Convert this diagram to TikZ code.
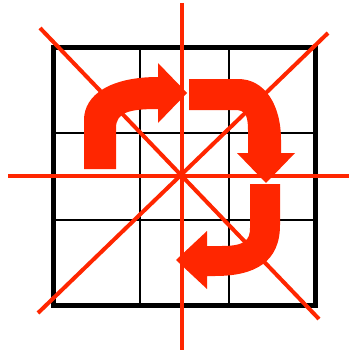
\documentclass[tikz,border=0pt]{standalone}
\definecolor{arrred}{RGB}{255,38,0}
\tikzset{
  gridouter/.style={line width=5pt, black},
  gridinner/.style={line width=2pt, black},
  redline/.style={line width=4pt, arrred},
  bigarrow/.style={fill=arrred, draw=none}
}
\begin{document}
\begin{tikzpicture}[x=1pt,y=-1pt]
\useasboundingbox (0,0) rectangle (349,353);
% grid
\draw[gridinner] (140,48) -- (140,305);
\draw[gridinner] (228.5,48) -- (228.5,305);
\draw[gridinner] (53,133) -- (315.5,133);
\draw[gridinner] (53,220) -- (315.5,220);
\draw[gridouter] (53,48) rectangle (315.5,305);
% red symmetry lines
\coordinate (c) at (181.5,176);
\draw[redline] (181.5,3) -- (181.5,350);
\draw[redline] (8,176) -- (349,176);
\draw[redline] (40,28) -- (319,319);
\draw[redline] (328,33) -- (38,313);
% arrows
\fill[bigarrow] (84,169) -- (84,120) .. controls (84,95) and (110,77) .. (158,77)
  -- (158,63) -- (187,93) -- (158,123) -- (158,109)
  .. controls (130,109) and (116,112) .. (116,128) -- (116,169) -- cycle;
\fill[bigarrow] (189,79) -- (238,79) .. controls (265,79) and (281,105) .. (281,140)
  -- (281,153) -- (295,153) -- (266,183) -- (237,153) -- (248,153) -- (248,130)
  .. controls (248,115) and (245,110) .. (235,110) -- (189,110) -- cycle;
\fill[bigarrow] (250,184) -- (280,184) -- (280,225) .. controls (280,262) and (255,276) .. (215,276)
  -- (207,276) -- (207,289) -- (176,260) -- (207,231) -- (207,246) -- (222,246)
  .. controls (245,246) and (250,240) .. (250,228) -- cycle;
\end{tikzpicture}
\end{document}
